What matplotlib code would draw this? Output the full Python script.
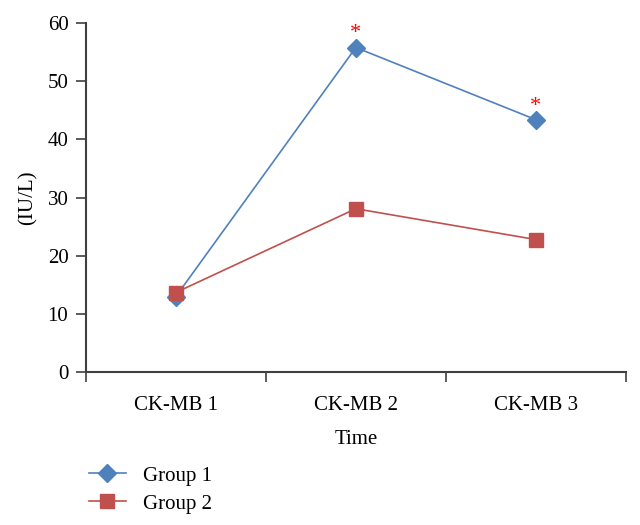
import matplotlib.pyplot as plt

categories = ['CK-MB 1', 'CK-MB 2', 'CK-MB 3']
group1 = [13.0, 55.8, 43.4]
group2 = [13.7, 28.1, 22.8]
significant = [False, True, True]

plt.rcParams['font.family'] = ['Liberation Serif', 'DejaVu Serif']

fig = plt.figure(figsize=(6.4, 5.25), dpi=100)
ax = fig.add_axes([0.134, 0.291, 0.844, 0.665])

x = [i + 0.5 for i in range(len(categories))]
ax.plot(x, group1, color='#4F81BD', marker='D', markersize=9, lw=1.2, label='Group 1')
ax.plot(x, group2, color='#C0504D', marker='s', markersize=10, lw=1.2, label='Group 2')

# stars over group 1 points
for xi, yi, s in zip(x, group1, significant):
    if s:
        ax.annotate('*', (xi, yi), xytext=(0, 3), textcoords='offset points',
                    ha='center', va='bottom', color='red', fontsize=16)

ax.set_xlim(0, len(categories))
ax.set_ylim(0, 60)
ax.set_yticks(range(0, 61, 10))
ax.set_xticks(range(len(categories) + 1))
ax.set_xticklabels([])
ax.set_xticks(x, minor=True)
ax.set_xticklabels(categories, minor=True)
ax.tick_params(axis='x', which='minor', length=0, pad=17, labelsize=15)
ax.tick_params(axis='x', which='major', length=7.5, direction='out', width=1.2, color='#404040')
ax.tick_params(axis='y', length=7.5, direction='out', width=1.2, color='#404040', labelsize=15)
ax.tick_params(axis='y', pad=5)

for side in ['top', 'right']:
    ax.spines[side].set_visible(False)
for side in ['left', 'bottom']:
    ax.spines[side].set_linewidth(1.5)
    ax.spines[side].set_color('#404040')

ax.set_ylabel('(IU/L)', fontsize=15, labelpad=7)
ax.set_xlabel('Time', fontsize=15, labelpad=11)

ax.legend(loc='upper left', bbox_to_anchor=(-0.01, -0.245), frameon=False,
          fontsize=15, handlelength=1.8, labelspacing=0.4, handletextpad=0.8,
          borderaxespad=0)

plt.savefig('out.png', dpi=100)
